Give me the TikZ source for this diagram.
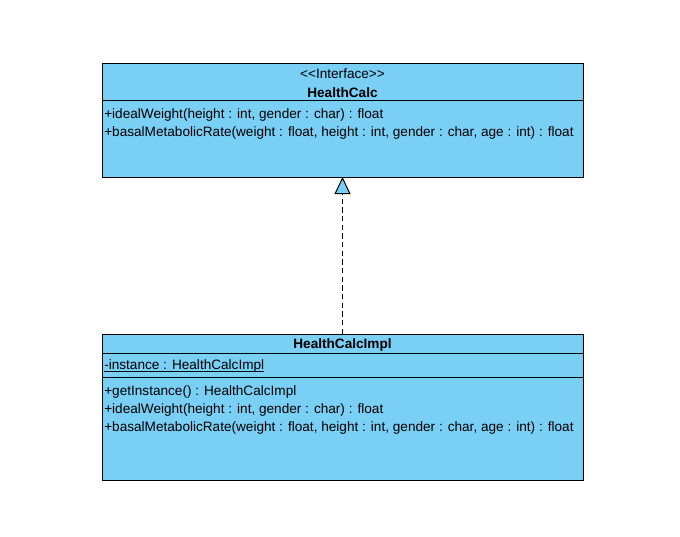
\documentclass[tikz,border=0pt]{standalone}
\usepackage{fontspec}
\setmainfont{Liberation Sans}
\usetikzlibrary{arrows.meta}
\definecolor{umlblue}{RGB}{122,207,245}
\newcommand\undertext[1]{\setbox0\hbox{#1}\rlap{\rule[-1.6pt]{\wd0}{0.6pt}}\box0}
\begin{document}
\begin{tikzpicture}[x=0.75pt,y=-0.75pt,
    part/.style={draw, line width=0.75pt, fill=umlblue, minimum width=481*0.75pt, inner sep=0pt, outer sep=0pt},
    txt/.style={anchor=west, inner sep=0pt, font=\fontsize{10.2}{12}\selectfont},
    title/.style={inner sep=0pt, font=\fontsize{10.2}{12}\selectfont\bfseries}]
  \useasboundingbox (0,0) rectangle (680,536);
  % interface HealthCalc
  \node[part, minimum height=37*0.75pt] (calchead) at (342.5,81.5) {};
  \node[part, minimum height=77*0.75pt] (calcops) at (342.5,138.5) {};
  \node[title, font=\fontsize{10.2}{12}\selectfont] (stereo) at (342.5,74) {<\kern0pt<Interface>\kern0pt>};
  \node[title] (calcname) at (342.5,92.5) {HealthCalc};
  \node[txt] (op1) at (104,114.5) {+idealWeight(height : int, gender : char) : float};
  \node[txt] (op2) at (104,132.5) {+basalMetabolicRate(weight : float, height : int, gender : char, age : int) : float};
  % class HealthCalcImpl
  \node[part, minimum height=19*0.75pt] (implhead) at (342.5,343.5) {};
  \node[part, minimum height=24*0.75pt] (implattr) at (342.5,365) {};
  \node[part, minimum height=103*0.75pt] (implops) at (342.5,428.5) {};
  \node[title] (implname) at (342.5,345) {HealthCalcImpl};
  \node[txt] (attr1) at (104,366) {\undertext{-instance : HealthCalcImpl}};
  \node[txt] (iop1) at (104,391.5) {+getInstance() : HealthCalcImpl};
  \node[txt] (iop2) at (104,409.5) {+idealWeight(height : int, gender : char) : float};
  \node[txt] (iop3) at (104,427.5) {+basalMetabolicRate(weight : float, height : int, gender : char, age : int) : float};
  % realization
  \draw[line width=0.75pt, dash pattern=on 4pt off 2.5pt,
        -{Triangle[length=12.75pt, width=12pt, fill=umlblue, line width=0.75pt]}]
        (implhead.north) -- (calcops.south);
\end{tikzpicture}
\end{document}
